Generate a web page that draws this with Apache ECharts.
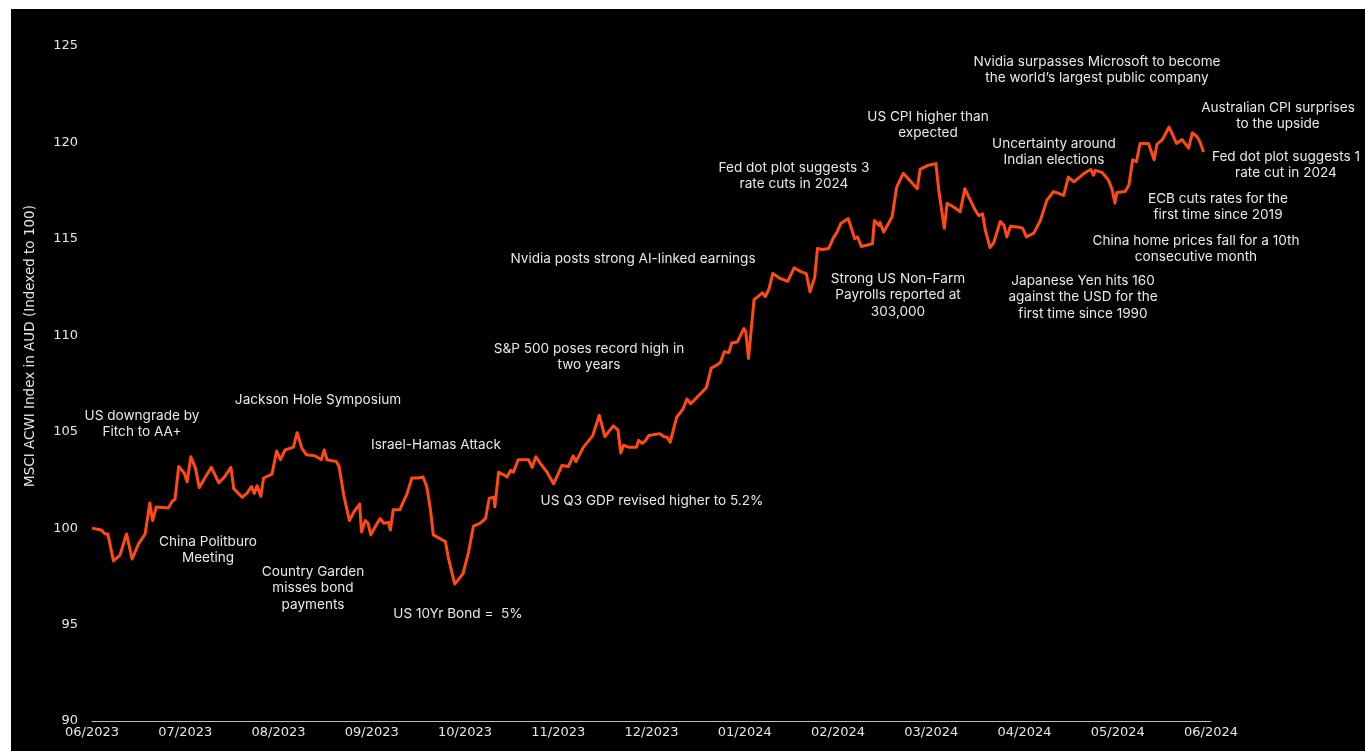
<!DOCTYPE html>
<html>
<head>
<meta charset="utf-8">
<script src="https://cdn.jsdelivr.net/npm/echarts@6/dist/echarts.min.js"></script>
<style>
html,body{margin:0;padding:0;background:#fff;}
#chart{width:1365px;height:751px;}
</style>
</head>
<body>
<div id="chart"></div>
<script>
// ---- DATA ----
// x tick labels (month ends)
const tickLabels = ['06/2023','07/2023','08/2023','09/2023','10/2023','11/2023','12/2023','01/2024','02/2024','03/2024','04/2024','05/2024','06/2024'];
// position of each observation, in months since end of June 2023
const monthPos = [
0.00,0.10,0.14,0.17,0.23,0.30,0.37,0.43,0.50,0.57,0.62,0.65,0.69,0.82,0.86,0.89,0.93,0.99,
1.02,1.06,1.11,1.15,1.21,1.28,1.36,1.42,1.49,1.52,1.61,1.66,1.71,1.74,1.77,1.81,1.84,1.93,1.98,
2.02,2.07,2.16,2.20,2.25,2.30,2.39,2.46,2.49,2.52,2.62,2.65,2.70,2.76,2.81,2.87,2.89,2.93,2.96,2.99,
3.04,3.09,3.13,3.18,3.20,3.23,3.30,3.38,3.43,3.50,3.55,3.59,3.63,3.66,3.79,3.82,3.89,3.98,
4.04,4.09,4.16,4.22,4.26,4.31,4.32,4.36,4.42,4.45,4.49,4.52,4.57,4.68,4.72,4.76,4.81,4.88,4.95,
5.04,5.11,5.16,5.19,5.27,5.37,5.44,5.50,5.59,5.64,5.67,5.70,5.75,5.84,5.86,5.90,5.93,5.97,
6.09,6.13,6.17,6.20,6.27,6.34,6.38,6.42,6.47,6.54,6.59,6.64,6.70,6.74,6.78,6.83,6.86,6.92,6.99,
7.01,7.04,7.10,7.19,7.22,7.26,7.30,7.38,7.46,7.53,7.60,7.66,7.70,7.75,7.78,7.83,7.90,7.95,7.99,
8.03,8.11,8.15,8.18,8.21,8.25,8.37,8.39,8.44,8.45,8.49,8.58,8.63,8.70,8.85,8.88,8.96,
9.05,9.08,9.14,9.17,9.24,9.31,9.36,9.42,9.47,9.51,9.55,9.58,9.63,9.67,9.74,9.78,9.81,9.85,9.94,9.98,
10.02,10.10,10.17,10.24,10.28,10.31,10.37,10.42,10.47,10.53,10.64,10.71,10.74,10.76,10.83,10.90,10.94,10.97,10.99,
11.08,11.12,11.16,11.20,11.24,11.33,11.39,11.42,11.48,11.55,11.63,11.69,11.76,11.80,11.85,11.88,11.92
];
// MSCI ACWI index in AUD (indexed to 100)
const indexValues = [
100.0,99.9,99.7,99.7,98.3,98.6,99.7,98.4,99.2,99.7,101.3,100.4,101.1,101.05,101.4,101.5,103.2,102.85,
102.4,103.7,103.1,102.1,102.6,103.15,102.35,102.65,103.15,102.05,101.6,101.8,102.15,101.8,102.2,101.65,102.6,102.8,104.0,
103.55,104.05,104.2,104.95,104.15,103.8,103.75,103.55,104.05,103.55,103.45,103.2,101.7,100.4,100.85,101.25,99.8,100.4,100.25,99.65,
100.1,100.5,100.25,100.3,99.9,100.95,100.95,101.8,102.6,102.6,102.65,102.15,100.95,99.65,99.3,98.5,97.1,97.65,
98.8,100.1,100.25,100.5,101.55,101.6,101.1,102.9,102.75,102.65,103.0,102.9,103.55,103.55,103.15,103.7,103.35,102.9,102.3,
103.25,103.2,103.75,103.45,104.2,104.8,105.85,104.75,105.3,105.1,103.9,104.3,104.2,104.2,104.55,104.4,104.5,104.8,
104.9,104.75,104.7,104.45,105.75,106.2,106.7,106.45,106.7,107.05,107.3,108.3,108.45,108.6,109.15,109.1,109.6,109.65,110.35,
110.2,108.8,111.85,112.2,112.0,112.4,113.2,112.95,112.8,113.5,113.3,113.2,112.25,113.0,114.5,114.45,114.5,115.05,115.35,
115.8,116.05,115.45,115.0,115.1,114.6,114.75,115.95,115.7,115.85,115.35,116.15,117.7,118.4,117.6,118.6,118.8,
118.9,117.55,115.55,116.85,116.65,116.4,117.6,117.0,116.5,116.2,116.3,115.45,114.55,114.8,115.9,115.7,115.1,115.65,115.6,115.55,
115.1,115.3,115.95,117.0,117.25,117.45,117.35,117.25,118.2,117.95,118.4,118.6,118.3,118.55,118.45,118.05,117.55,116.85,117.4,
117.45,117.8,119.1,119.0,119.95,119.95,119.1,119.9,120.15,120.8,119.95,120.15,119.7,120.5,120.3,120.05,119.5
];
const yTicks = {min: 90, max: 125, step: 5};
const yAxisTitle = 'MSCI ACWI Index in AUD (Indexed to 100)';
const annotationTexts = [
  'US downgrade by\nFitch to AA+',
  'China Politburo\nMeeting',
  'Jackson Hole Symposium',
  'Country Garden\nmisses bond\npayments',
  'Israel-Hamas Attack',
  'US 10Yr Bond =  5%',
  'US Q3 GDP revised higher to 5.2%',
  'S&P 500 poses record high in\ntwo years',
  'Nvidia posts strong AI-linked earnings',
  'Fed dot plot suggests 3\nrate cuts in 2024',
  'Strong US Non-Farm\nPayrolls reported at\n303,000',
  'US CPI higher than\nexpected',
  'Uncertainty around\nIndian elections',
  'Japanese Yen hits 160\nagainst the USD for the\nfirst time since 1990',
  'Nvidia surpasses Microsoft to become\nthe world\u2019s largest public company',
  'Australian CPI surprises\nto the upside',
  'Fed dot plot suggests 1\nrate cut in 2024',
  'ECB cuts rates for the\nfirst time since 2019',
  'China home prices fall for a 10th\nconsecutive month'
];

// ---- LAYOUT (pixel centres of annotation blocks) ----
const annotationLayout = [
  [142,424],[208,550],[318,400],[313,588],[436,445],[458,614],[652,501],[589,357],[633,259],
  [794,176],[898,295],[928,125],[1054,152],[1083,297],[1097,70],[1278,116],[1286,165],[1218,207],[1196,249]
];

const seriesData = monthPos.map((m, i) => [m, indexValues[i]]);

const chart = echarts.init(document.getElementById('chart'), null, {renderer: 'canvas'});

const graphics = [
  {type: 'rect', left: 0, top: 0, shape: {width: 1365, height: 9}, style: {fill: '#ffffff'}, z: 100},
  {type: 'rect', left: 0, top: 0, shape: {width: 11, height: 751}, style: {fill: '#ffffff'}, z: 100},
  {type: 'text', x: 30, y: 346, rotation: Math.PI / 2,
   style: {text: yAxisTitle, fill: '#e6e6e6', font: '13.5px "DejaVu Sans"', align: 'center', verticalAlign: 'middle'}}
];
annotationTexts.forEach((t, i) => {
  graphics.push({
    type: 'text', x: annotationLayout[i][0], y: annotationLayout[i][1],
    style: {text: t, fill: '#e8e8e8', font: '13.6px Inter', lineHeight: 16.5, align: 'center', verticalAlign: 'middle'}
  });
});

chart.setOption({
  backgroundColor: '#000000',
  animation: false,
  grid: {left: 92, right: 154, top: 46, bottom: 30, containLabel: false},
  xAxis: {
    type: 'value', min: 0, max: tickLabels.length - 1, interval: 1,
    axisLine: {show: true, lineStyle: {color: '#bfbfbf', width: 1}},
    axisTick: {show: false},
    splitLine: {show: false},
    axisLabel: {
      color: '#e6e6e6', fontFamily: 'DejaVu Sans', fontSize: 13, margin: 5,
      showMinLabel: true, showMaxLabel: true,
      formatter: v => tickLabels[Math.round(v)] || ''
    }
  },
  yAxis: {
    type: 'value', min: yTicks.min, max: yTicks.max, interval: yTicks.step,
    axisLine: {show: false}, axisTick: {show: false}, splitLine: {show: false},
    axisLabel: {color: '#e6e6e6', fontFamily: 'DejaVu Sans', fontSize: 13, margin: 14}
  },
  graphic: graphics,
  series: [{
    type: 'line',
    data: seriesData,
    showSymbol: false,
    symbol: 'none',
    lineStyle: {color: '#ff4a14', width: 3, join: 'round'},
    smooth: false
  }]
});
</script>
</body>
</html>
